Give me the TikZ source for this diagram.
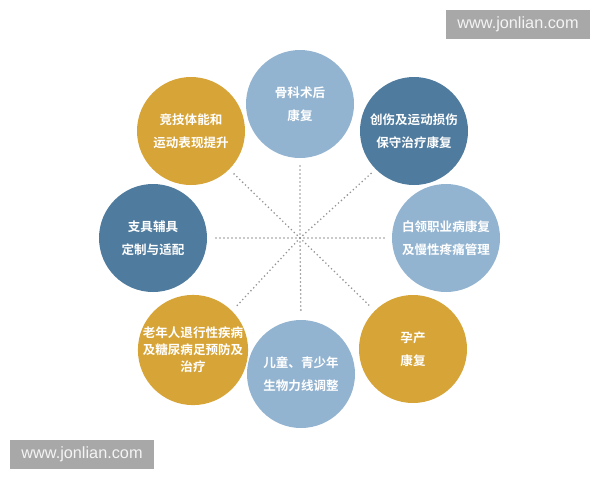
\documentclass[tikz,border=0pt]{standalone}
\usepackage{fontspec}
\setmainfont{Liberation Sans}
\newfontfamily\cjk{Noto Sans CJK SC}[BoldFont={* Bold}]
\definecolor{gold}{HTML}{D7A437}
\definecolor{darkb}{HTML}{4F7B9E}
\definecolor{lightb}{HTML}{93B4D1}
\definecolor{wmbox}{HTML}{A8A8A8}
\definecolor{wmtext}{HTML}{F4F4F4}
\definecolor{dotgray}{HTML}{959595}
\tikzset{
  bubble/.style={circle, minimum size=81pt, inner sep=0pt, align=center,
    text=white, font=\cjk\bfseries\fontsize{9.4}{17.2}\selectfont},
  tight/.style={font=\cjk\bfseries\fontsize{9.4}{12.8}\selectfont},
  dotline/.style={draw=dotgray, line width=1.35pt, line cap=round,
    dash pattern=on 0pt off 3pt, shorten >=4.5pt},
  wmark/.style={fill=wmbox, text=wmtext, inner sep=0pt, minimum width=108pt,
    minimum height=22pt, font=\fontsize{12.2}{14}\selectfont}
}
\begin{document}
\begin{tikzpicture}[x=0.75pt,y=-0.75pt]
\useasboundingbox[fill=white] (0,0) rectangle (600,480);
\coordinate (c) at (300,238);
\node[bubble, fill=lightb] (n1) at (300,104) {骨科术后\\康复};
\node[bubble, fill=darkb] (n2) at (414,131) {创伤及运动损伤\\保守治疗康复};
\node[bubble, fill=lightb] (n3) at (446,238) {白领职业病康复\\及慢性疼痛管理};
\node[bubble, fill=gold] (n4) at (413,349) {孕产\\康复};
\node[bubble, fill=lightb] (n5) at (301,374) {儿童、青少年\\生物力线调整};
\node[bubble, tight, fill=gold] (n6) at (193,350) {老年人退行性疾病\\及糖尿病足预防及\\治疗};
\node[bubble, fill=darkb] (n7) at (153,238) {支具辅具\\定制与适配};
\node[bubble, fill=gold] (n8) at (191,131) {竞技体能和\\运动表现提升};
\draw[dotline] (c) -- (n1.south);
\draw[dotline] (c) -- (n2.south west);
\draw[dotline] (c) -- (n3.west);
\draw[dotline] (c) -- (n4.north west);
\draw[dotline] (c) -- (n5.north);
\draw[dotline] (c) -- (n6.north east);
\draw[dotline] (c) -- (n7.east);
\draw[dotline] (c) -- (n8.south east);
\node[wmark] (w1) at (518,24.5) {www.jonlian.com};
\node[wmark] (w2) at (82,454.5) {www.jonlian.com};
\end{tikzpicture}
\end{document}
